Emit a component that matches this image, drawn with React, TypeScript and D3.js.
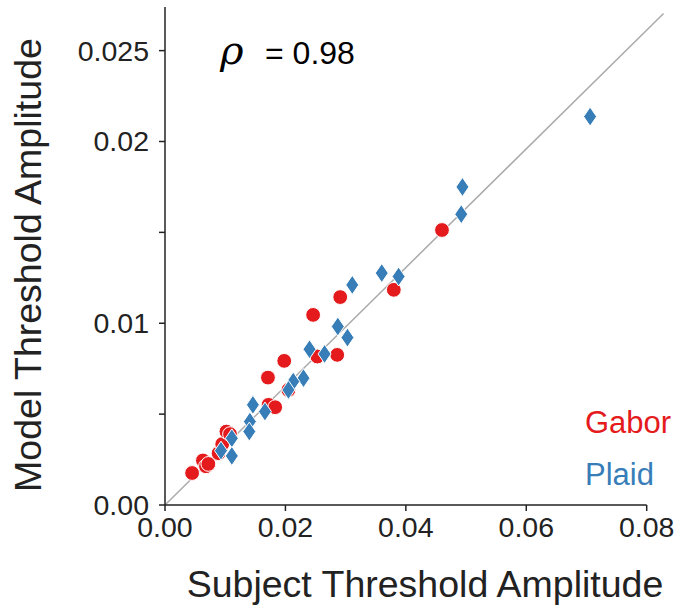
import React from "react";
import * as d3 from "d3";

const gaborX = [0.0045, 0.0063, 0.0068, 0.0072, 0.0089, 0.0095, 0.0102, 0.0108, 0.0172, 0.0183, 0.0171, 0.0198, 0.0205, 0.0253, 0.0286, 0.0246, 0.0291, 0.0380, 0.0460];
const gaborY = [0.00176, 0.00245, 0.00213, 0.00226, 0.00285, 0.00335, 0.00404, 0.00390, 0.00551, 0.00538, 0.00701, 0.00793, 0.00633, 0.00817, 0.00826, 0.01046, 0.01144, 0.01184, 0.01513];

const plaidX = [0.0706, 0.0494, 0.0492, 0.0388, 0.0360, 0.0311, 0.0287, 0.0303, 0.0265, 0.0240, 0.0230, 0.0213, 0.0205, 0.0166, 0.0146, 0.0141, 0.0140, 0.0111, 0.0093, 0.0111];
const plaidY = [0.02137, 0.0175, 0.0160, 0.01257, 0.01276, 0.01211, 0.00982, 0.00921, 0.00831, 0.00857, 0.00698, 0.00679, 0.00633, 0.00514, 0.00551, 0.00459, 0.00404, 0.00367, 0.00299, 0.00270];

const xTicks = [0, 0.02, 0.04, 0.06, 0.08];
const xTickLabels = ["0.00", "0.02", "0.04", "0.06", "0.08"];
const yTicks = [0, 0.005, 0.01, 0.015, 0.02, 0.025];
const yTickLabels = ["0.00", "", "0.01", "", "0.02", "0.025"];
const diagEnd = [0.0828, 0.02704];

const RED = "#E41A1C";
const BLUE = "#377EB8";
const FONT = "'Liberation Sans', Arial, Helvetica, sans-serif";

export default function App() {
  const x = d3.scaleLinear().domain([0, 0.08]).range([165, 646.7]);
  const y = d3.scaleLinear().domain([0, 0.0274]).range([505, 7]);
  const line = d3.line<number[]>().x((d) => x(d[0])).y((d) => y(d[1]));
  const diamond = "M0,-9.5L6.5,0L0,9.5L-6.5,0Z";
  const axisColor = "#222";

  return (
    <svg width={694} height={607} style={{ position: "absolute", left: 0, top: 0, background: "#fff" }}>
      <path d={line([[0, 0], diagEnd]) || ""} stroke="#aaa" strokeWidth={1.5} fill="none" />
      {gaborX.map((v, i) => (
        <circle key={"g" + i} cx={x(v)} cy={y(gaborY[i])} r={7.4} fill={RED} stroke="#fff" strokeWidth={1} />
      ))}
      {plaidX.map((v, i) => (
        <path key={"p" + i} d={diamond} transform={`translate(${x(v)},${y(plaidY[i])})`} fill={BLUE} stroke="#fff" strokeWidth={1} />
      ))}
      <line x1={x(0)} x2={x(0.08)} y1={505} y2={505} stroke={axisColor} strokeWidth={1.5} />
      <line x1={165} x2={165} y1={7} y2={505} stroke={axisColor} strokeWidth={1.5} />
      {xTicks.map((t, i) => (
        <g key={"xt" + i}>
          <line x1={x(t)} x2={x(t)} y1={505} y2={511} stroke={axisColor} strokeWidth={1.5} />
          <text x={x(t)} y={537} textAnchor="middle" fontFamily={FONT} fontSize={28.5} fill="#222">
            {xTickLabels[i]}
          </text>
        </g>
      ))}
      {yTicks.map((t, i) => (
        <g key={"yt" + i}>
          <line x1={159} x2={165} y1={y(t)} y2={y(t)} stroke={axisColor} strokeWidth={1.5} />
          <text x={149} y={y(t)} dy="0.35em" textAnchor="end" fontFamily={FONT} fontSize={28.5} fill="#222">
            {yTickLabels[i]}
          </text>
        </g>
      ))}
      <text x={425} y={597} textAnchor="middle" fontFamily={FONT} fontSize={37.5} fill="#222">
        Subject Threshold Amplitude
      </text>
      <text transform="translate(41,265) rotate(-90)" textAnchor="middle" fontFamily={FONT} fontSize={37.5} fill="#222">
        Model Threshold Amplitude
      </text>
      <text x={220} y={64} fontFamily="'DejaVu Serif', 'Liberation Serif', serif" fontStyle="italic" fontSize={40} fill="#000">
        ρ
      </text>
      <text x={265} y={64} fontFamily={FONT} fontSize={32} fill="#000">
        = 0.98
      </text>
      <text x={585} y={433} fontFamily={FONT} fontSize={31} fill={RED}>
        Gabor
      </text>
      <text x={585} y={485} fontFamily={FONT} fontSize={31} fill={BLUE}>
        Plaid
      </text>
    </svg>
  );
}
